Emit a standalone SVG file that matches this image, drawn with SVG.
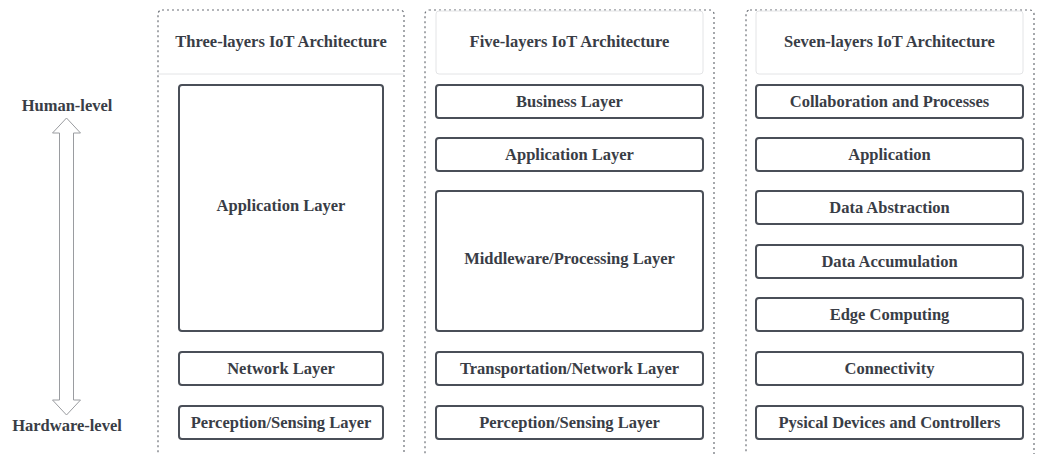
<svg xmlns="http://www.w3.org/2000/svg" width="1040" height="454" viewBox="0 0 1040 454">
<defs>
<style>
.cont{fill:none;stroke:#6b6f76;stroke-width:1.2;stroke-dasharray:2 3}
.hdr{fill:#fff;stroke:#e3e4e6;stroke-width:1}
.box{fill:#fff;stroke:#4a4f58;stroke-width:2}
.t{font-family:"Liberation Serif",serif;font-weight:bold;font-size:16.5px;fill:#393d46;text-anchor:middle;dominant-baseline:central}
.arr{fill:#fff;stroke:#9a9ca0;stroke-width:1}
</style>
</defs>
<rect width="1040" height="454" fill="#fff"/>
<g id="column-three">
<rect class="cont" x="158" y="10" width="246" height="460" rx="4"/>
<line x1="158" y1="74" x2="404" y2="74" stroke="#e3e4e6" stroke-width="1"/>
<text class="t" x="281" y="41.5">Three-layers IoT Architecture</text>
</g>
<g id="column-five">
<rect class="cont" x="425" y="10" width="289" height="460" rx="4"/>
<rect class="hdr" x="436" y="11" width="267" height="63" rx="3"/>
<text class="t" x="569.5" y="41.5">Five-layers IoT Architecture</text>
</g>
<g id="column-seven">
<rect class="cont" x="746" y="10" width="288" height="460" rx="4"/>
<rect class="hdr" x="756" y="11" width="267" height="63" rx="3"/>
<text class="t" x="889.5" y="41.5">Seven-layers IoT Architecture</text>
</g>
<g id="t-app"><rect class="box" x="179" y="85" width="204" height="246" rx="3"/><text class="t" x="281" y="205.5">Application Layer</text></g>
<g id="t-net"><rect class="box" x="179" y="352" width="204" height="33" rx="3"/><text class="t" x="281" y="368">Network Layer</text></g>
<g id="t-per"><rect class="box" x="179" y="406" width="204" height="33" rx="3"/><text class="t" x="281" y="422">Perception/Sensing Layer</text></g>
<g id="f-bus"><rect class="box" x="436" y="85" width="267" height="33" rx="3"/><text class="t" x="569.5" y="101">Business Layer</text></g>
<g id="f-app"><rect class="box" x="436" y="138" width="267" height="33" rx="3"/><text class="t" x="569.5" y="154">Application Layer</text></g>
<g id="f-mid"><rect class="box" x="436" y="191" width="267" height="140" rx="3"/><text class="t" x="569.5" y="258">Middleware/Processing Layer</text></g>
<g id="f-tra"><rect class="box" x="436" y="352" width="267" height="33" rx="3"/><text class="t" x="569.5" y="368">Transportation/Network Layer</text></g>
<g id="f-per"><rect class="box" x="436" y="406" width="267" height="33" rx="3"/><text class="t" x="569.5" y="422">Perception/Sensing Layer</text></g>
<g id="s-col"><rect class="box" x="756" y="85" width="267" height="33" rx="3"/><text class="t" x="889.5" y="101">Collaboration and Processes</text></g>
<g id="s-app"><rect class="box" x="756" y="138" width="267" height="33" rx="3"/><text class="t" x="889.5" y="154">Application</text></g>
<g id="s-abs"><rect class="box" x="756" y="191" width="267" height="33" rx="3"/><text class="t" x="889.5" y="207">Data Abstraction</text></g>
<g id="s-acc"><rect class="box" x="756" y="245" width="267" height="33" rx="3"/><text class="t" x="889.5" y="261">Data Accumulation</text></g>
<g id="s-edge"><rect class="box" x="756" y="298" width="267" height="33" rx="3"/><text class="t" x="889.5" y="314">Edge Computing</text></g>
<g id="s-con"><rect class="box" x="756" y="352" width="267" height="33" rx="3"/><text class="t" x="889.5" y="368">Connectivity</text></g>
<g id="s-dev"><rect class="box" x="756" y="406" width="267" height="33" rx="3"/><text class="t" x="889.5" y="422">Pysical Devices and Controllers</text></g>
<g id="human-level"><text class="t" x="67" y="105">Human-level</text></g>
<g id="hardware-level"><text class="t" x="67" y="425">Hardware-level</text></g>
<g id="connectors">
<path class="arr" d="M66.5,118 L80.5,133 L73.5,133 L73.5,400 L80.5,400 L66.5,415 L52.5,400 L59.5,400 L59.5,133 L52.5,133 Z"/>
</g>
</svg>
